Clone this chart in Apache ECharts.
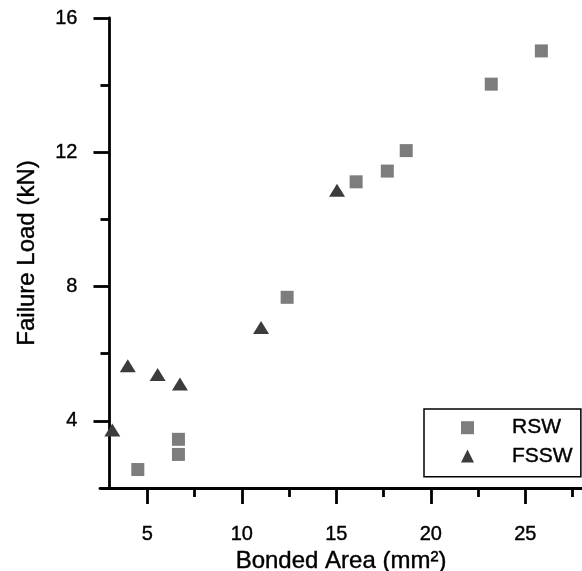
<!DOCTYPE html>
<html>
<head>
<meta charset="utf-8">
<script src="https://cdn.jsdelivr.net/npm/echarts@6/dist/echarts.min.js"></script>
<style>
  html, body { margin: 0; padding: 0; background: #fff; }
  #chart { width: 582px; height: 571px; }
</style>
</head>
<body>
<div id="chart"></div>
<script>
// Failure load against bonded area for resistance spot welds (RSW)
// and friction stir spot welds (FSSW).
const rswArea  = [4.5, 6.65, 6.65, 12.4, 16.05, 17.7, 18.7, 23.2, 25.85];
const rswLoad  = [2.55, 3.45, 3.0, 7.68, 11.12, 11.44, 12.05, 14.03, 15.02];
const fsswArea = [3.15, 3.97, 5.55, 6.73, 11.02, 15.04];
const fsswLoad = [3.73, 5.64, 5.38, 5.1, 6.78, 10.87];

const xMajorTicks = [5, 10, 15, 20, 25];
const xMinorTicks = [7.5, 12.5, 17.5, 22.5, 27.5];
const yMajorTicks = [4, 8, 12, 16];
const yMinorTicks = [6, 10, 14];

const X_MIN = 2.5, X_MAX = 28, Y_MIN = 2, Y_MAX = 16;
const Y_AXIS_AT = 3;            // the vertical axis crosses the x scale here
const GRID = { left: 100, right: 0, top: 18, bottom: 83 };
const FONT = "'Liberation Sans', Arial, Helvetica, sans-serif";

const chart = echarts.init(document.getElementById('chart'), null, { renderer: 'canvas' });
const plotWidth = 582 - GRID.left - GRID.right;
const yAxisOffset = -(Y_AXIS_AT - X_MIN) * plotWidth / (X_MAX - X_MIN);

const pairs = (xs, ys) => xs.map((x, i) => [x, ys[i]]);

const lineStyle = { color: '#000', width: 2.8 };
const textInk = { color: '#000', textBorderColor: '#000', textBorderWidth: 0.4 };

chart.setOption({
  animation: false,
  backgroundColor: '#fff',
  grid: Object.assign({ outerBoundsMode: 'none', containLabel: false }, GRID),
  legend: {
    orient: 'vertical',
    left: 424,
    top: 409,
    padding: [8, 8, 10, 37],
    itemWidth: 13,
    itemHeight: 13,
    itemGap: 7,
    borderColor: '#000',
    borderWidth: 1.5,
    selectedMode: false,
    textStyle: Object.assign({ fontFamily: FONT, fontSize: 21, padding: [0, 0, 0, 33] }, textInk),
    data: ['RSW', 'FSSW']
  },
  xAxis: [
    {
      type: 'value',
      min: X_MIN, max: X_MAX,
      position: 'bottom',
      name: 'Bonded Area (mm²)',
      nameLocation: 'middle',
      nameGap: 59,
      nameTextStyle: Object.assign({ fontFamily: FONT, fontSize: 24 }, textInk),
      axisLine: { show: true, onZero: false, lineStyle },
      axisTick: { show: true, inside: false, length: 16, customValues: xMajorTicks, lineStyle },
      axisLabel: Object.assign({ customValues: xMajorTicks, margin: 36, fontFamily: FONT, fontSize: 20 }, textInk),
      splitLine: { show: false }
    },
    {
      type: 'value',
      min: X_MIN, max: X_MAX,
      position: 'bottom',
      axisLine: { show: false, onZero: false },
      axisTick: { show: true, inside: false, length: 9, customValues: xMinorTicks, lineStyle },
      axisLabel: { show: false },
      splitLine: { show: false }
    }
  ],
  yAxis: [
    {
      type: 'value',
      min: Y_MIN, max: Y_MAX,
      position: 'left',
      offset: yAxisOffset,
      name: 'Failure Load (kN)',
      nameLocation: 'middle',
      nameGap: 70,
      nameTextStyle: Object.assign({ fontFamily: FONT, fontSize: 24 }, textInk),
      axisLine: { show: true, onZero: false, lineStyle },
      axisTick: { show: true, inside: false, length: 16, customValues: yMajorTicks, lineStyle },
      axisLabel: Object.assign({ customValues: yMajorTicks, margin: 32, fontFamily: FONT, fontSize: 20 }, textInk),
      splitLine: { show: false }
    },
    {
      type: 'value',
      min: Y_MIN, max: Y_MAX,
      position: 'left',
      offset: yAxisOffset,
      axisLine: { show: false, onZero: false },
      axisTick: { show: true, inside: false, length: 9, customValues: yMinorTicks, lineStyle },
      axisLabel: { show: false },
      splitLine: { show: false }
    }
  ],
  series: [
    {
      name: 'RSW',
      type: 'scatter',
      symbol: 'rect',
      symbolSize: 13,
      itemStyle: { color: '#7d7d7d', opacity: 1 },
      data: pairs(rswArea, rswLoad),
      z: 3
    },
    {
      name: 'FSSW',
      type: 'scatter',
      symbol: 'triangle',
      symbolSize: [16, 13],
      itemStyle: { color: '#3c3c3c', opacity: 1 },
      data: pairs(fsswArea, fsswLoad),
      z: 4
    }
  ]
});
</script>
</body>
</html>
